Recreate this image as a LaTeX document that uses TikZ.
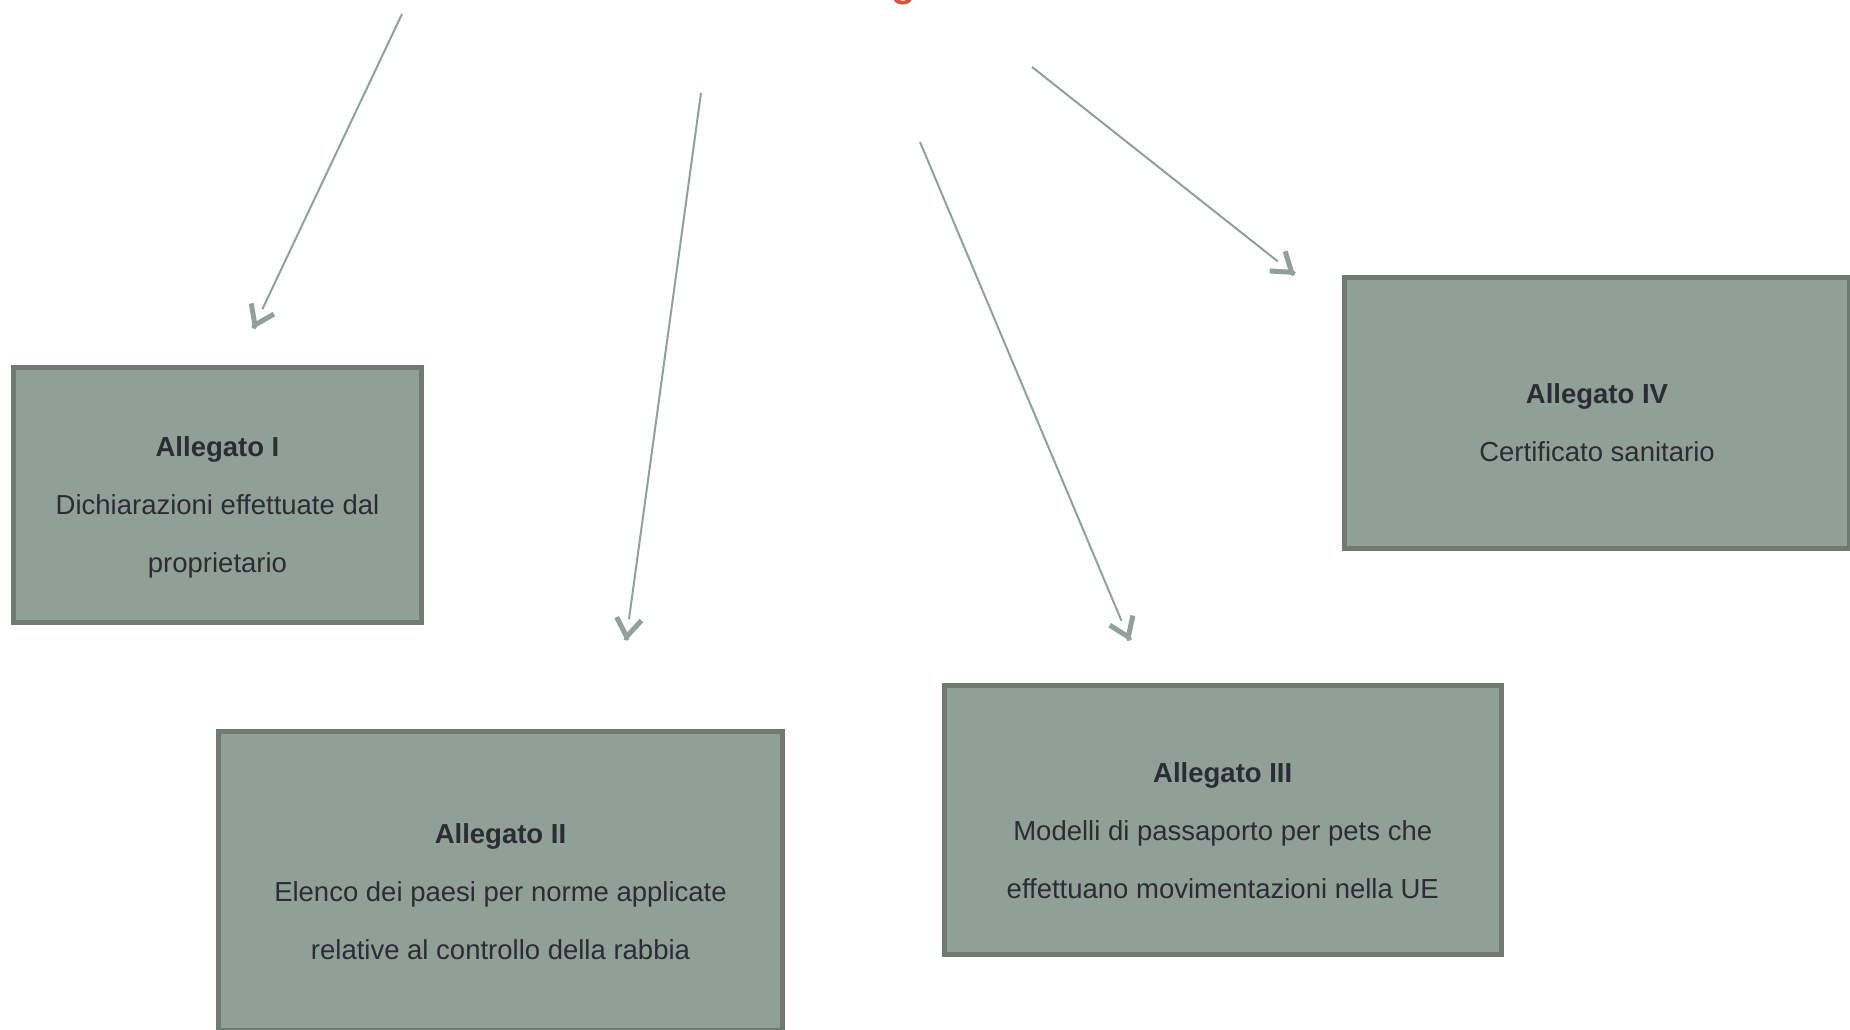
\documentclass[tikz,border=0pt]{standalone}
\usepackage{fontspec}
\setmainfont{Liberation Sans}
\usetikzlibrary{arrows.meta,calc}
\definecolor{boxfill}{HTML}{91A096}
\definecolor{boxline}{HTML}{6E7A72}
\definecolor{arrowcol}{HTML}{8FA199}
\definecolor{txtcol}{HTML}{2B2C35}
\definecolor{titlecol}{HTML}{D9553A}
\tikzset{
  allegato/.style={draw=boxline, fill=boxfill, line width=5pt, rectangle,
    inner sep=0pt},
  allegatotext/.style={inner sep=0pt, align=center, text=txtcol,
    font=\fontsize{27.5}{58}\selectfont},
  shaft/.style={draw=arrowcol, line width=2pt, shorten >=22pt},
  head/.style={draw=arrowcol, line width=5pt,
    -{Straight Barb[length=18pt,width=25pt,line width=5pt]}}
}
\begin{document}
\begin{tikzpicture}[x=1pt,y=-1pt]
\useasboundingbox (0,0) rectangle (1850,1029);
\node[text=titlecol, font=\fontsize{40}{48}\selectfont\bfseries, anchor=base, inner sep=0pt] (title) at (903.5,-4) {g};
\node[allegato, minimum width=408pt, minimum height=255pt] (a1) at (217.5,495) {};
\node[allegatotext] (a1t) at ([yshift=-12pt]a1.center)
  {\textbf{Allegato I}\\Dichiarazioni effettuate dal\\proprietario};
\node[allegato, minimum width=564pt, minimum height=299pt] (a2) at (500.5,881) {};
\node[allegatotext] (a2t) at ([yshift=-11pt]a2.center)
  {\textbf{Allegato II}\\Elenco dei paesi per norme applicate\\relative al controllo della rabbia};
\node[allegato, minimum width=557.5pt, minimum height=269pt] (a3) at (1222.75,820) {};
\node[allegatotext] (a3t) at ([yshift=-11pt]a3.center)
  {\textbf{Allegato III}\\Modelli di passaporto per pets che\\effettuano movimentazioni nella UE};
\node[allegato, minimum width=505pt, minimum height=271pt] (a4) at (1597,413) {};
\node[allegatotext] (a4t) at ([yshift=-9.5pt]a4.center)
  {\textbf{Allegato IV}\\Certificato sanitario};
\coordinate (s1) at (402,14);
\coordinate (s2) at (701,93);
\coordinate (s3) at (920,142);
\coordinate (s4) at (1032,67);
\coordinate (t1) at (253,329);
\coordinate (t2) at (626,641);
\coordinate (t3) at (1130,641);
\coordinate (t4) at (1295,275);
\foreach \s/\t in {s1/t1, s2/t2, s3/t3, s4/t4} {
  \draw[shaft] (\s) -- (\t);
  \draw[head] ($(\t)!1pt!(\s)$) -- (\t);
}
\end{tikzpicture}
\end{document}
